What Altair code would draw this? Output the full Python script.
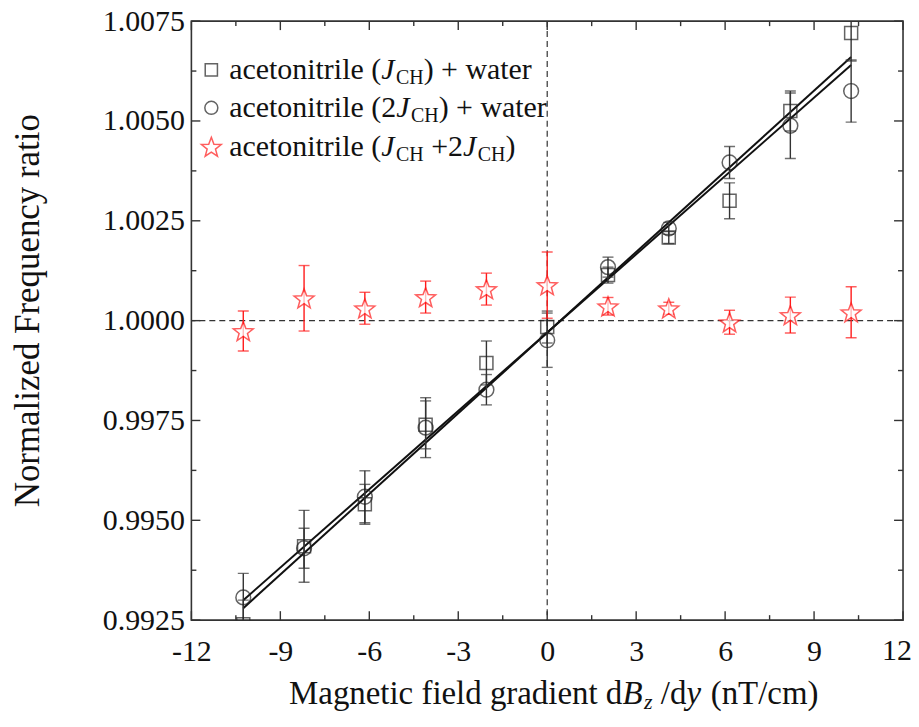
import math
import altair as alt
import pandas as pd

FONT = "Liberation Serif"

# ---------------- data ----------------
x_pts = [-10.25, -8.2, -6.15, -4.1, -2.05, 0.0, 2.05, 4.1, 6.15, 8.2, 10.25]

sq_y = [0.99240, 0.99435, 0.99540, 0.99739, 0.99894, 0.99984, 1.00114, 1.00208, 1.00300, 1.00525, 1.00720]
sq_err = [0.0006, 0.0009, 0.0005, 0.0006, 0.00055, 0.0004, 0.0002, 0.00015, 0.00045, 0.0005, 0.0007]

ci_y = [0.99307, 0.99430, 0.99559, 0.99732, 0.99827, 0.99951, 1.00134, 1.00231, 1.00396, 1.00488, 1.00575]
ci_err = [0.0006, 0.0005, 0.00065, 0.00075, 0.00038, 0.00068, 0.00025, 0.00015, 0.0004, 0.00082, 0.00078]

st_y = [0.99974, 1.00056, 1.00031, 1.00059, 1.00079, 1.00089, 1.00036, 1.00031, 0.99996, 1.00014, 1.00021]
st_err = [0.0005, 0.00082, 0.0004, 0.0004, 0.0004, 0.00083, 0.00022, 0.00015, 0.0003, 0.00045, 0.00064]

fit_x = [-10.25, 10.25]
fit_sq_y = [0.99280, 1.00660]
fit_ci_y = [0.99300, 1.00640]

x_major = [-12, -9, -6, -3, 0, 3, 6, 9, 12]
x_minor = [-10.5, -7.5, -4.5, -1.5, 1.5, 4.5, 7.5, 10.5]
x_last = [12]
y_major = [0.9925, 0.9950, 0.9975, 1.0000, 1.0025, 1.0050, 1.0075]
y_minor = [0.99375, 0.99625, 0.99875, 1.00125, 1.00375, 1.00625]

ref_y = [1.0]
ref_x = [0.0]

legend_rows = [
    [("acetonitrile (", "n"), ("J", "i"), ("CH", "s"), (") + water", "n")],
    [("acetonitrile (2", "n"), ("J", "i"), ("CH", "s"), (") + water", "n")],
    [("acetonitrile (", "n"), ("J", "i"), ("CH", "s"), (" +2", "n"), ("J", "i"), ("CH", "s"), (")", "n")],
]
legend_shapes = ["square", "circle", "star"]
legend_colors = ["#222222", "#222222", "#ff1a1a"]

x_title = [("Magnetic field gradient d", "n"), ("B", "i"), ("z", "si"), (" /d", "n"), ("y", "i"), (" (nT/cm)", "n")]
y_title = "Normalized Frequency ratio"

# five-pointed star outline as a custom symbol path in [-1, 1]
pts = []
for k in range(10):
    a = math.radians(-90 + 36 * k)
    r = 1.0 if k % 2 == 0 else 0.42
    pts.append((r * math.cos(a), r * math.sin(a) + 0.1))
STAR = "M" + " L".join(f"{px:.3f},{py:.3f}" for px, py in pts) + " Z"

# ---------------- layout ----------------
W, H = 714, 601
xs = alt.Scale(domain=[-12, 12], nice=False, zero=False)
ys = alt.Scale(domain=[0.9925, 1.0075], nice=False, zero=False)

xaxis = alt.Axis(values=x_major, labelExpr="datum.value == 12 ? '' : '' + datum.value",
                 ticks=False, domain=False, grid=False,
                 labelFont=FONT, labelFontSize=30, labelPadding=16, labelColor="#111",
                 labelOverlap=False, labelFlush=False, title=None)
yaxis = alt.Axis(values=y_major, format=".4f", ticks=False, domain=False, grid=False,
                 labelFont=FONT, labelFontSize=30, labelPadding=7, labelColor="#111",
                 labelOverlap=False, labelFlush=False,
                 titleFont=FONT, titleFontSize=35, titleFontWeight="normal", titleColor="#111",
                 titlePadding=57, titleY=290)


def X(f):
    return alt.X(f, type="quantitative", scale=xs, axis=xaxis, title=None)


def Y(f):
    return alt.Y(f, type="quantitative", scale=ys, axis=yaxis, title=y_title)


def frame(xv, yv, e):
    df = pd.DataFrame({"x": xv, "y": yv, "e": e})
    df["lo"] = df["y"] - df["e"]
    df["hi"] = df["y"] + df["e"]
    return df


df_sq = frame(x_pts, sq_y, sq_err)
df_ci = frame(x_pts, ci_y, ci_err)
df_st = frame(x_pts, st_y, st_err)

layers = []

# dashed reference lines
layers.append(alt.Chart(pd.DataFrame({"y": ref_y})).mark_rule(
    color="#333", strokeWidth=1.2, strokeDash=[6, 4]).encode(y=Y("y")))
layers.append(alt.Chart(pd.DataFrame({"x": ref_x})).mark_rule(
    color="#333", strokeWidth=1.2, strokeDash=[6, 4]).encode(x=X("x")))

# fit lines
fit_df = pd.DataFrame({"x": fit_x * 2, "y": fit_sq_y + fit_ci_y, "s": ["sq"] * 2 + ["ci"] * 2})
layers.append(alt.Chart(fit_df).mark_line(color="#111", strokeWidth=2).encode(
    x=X("x"), y=Y("y"), detail="s:N"))


def err_layers(df, color):
    out = []
    out.append(alt.Chart(df).mark_rule(color=color, strokeWidth=1.4, clip=True).encode(
        x=X("x"), y=Y("lo"), y2=alt.Y2("hi")))
    for f in ["lo", "hi"]:
        out.append(alt.Chart(df).mark_tick(color=color, orient="horizontal", size=11,
                                           thickness=1.4, clip=True).encode(x=X("x"), y=Y(f)))
    return out


layers += err_layers(df_sq, "#333")
layers += err_layers(df_ci, "#333")
layers += err_layers(df_st, "#ff1a1a")

layers.append(alt.Chart(df_sq).mark_point(shape="square", size=170, filled=False, color="#222",
                                          strokeWidth=1.5, clip=True).encode(x=X("x"), y=Y("y")))
layers.append(alt.Chart(df_ci).mark_point(shape="circle", size=220, filled=False, color="#222",
                                          strokeWidth=1.5, clip=True).encode(x=X("x"), y=Y("y")))
layers.append(alt.Chart(df_st).mark_point(shape=STAR, size=440, filled=True, fill="white",
                                          stroke="#ff1a1a", strokeWidth=1.5, clip=True).encode(x=X("x"), y=Y("y")))

# inward axis ticks
TICK_C = "#333"
for vals, ln in [(x_major, 9), (x_minor, 5)]:
    d = pd.DataFrame({"x": vals})
    layers.append(alt.Chart(d).mark_rule(color=TICK_C, strokeWidth=1.4).encode(
        x=X("x"), y=alt.value(H), y2=alt.value(H - ln)))
    layers.append(alt.Chart(d).mark_rule(color=TICK_C, strokeWidth=1.4).encode(
        x=X("x"), y=alt.value(0), y2=alt.value(ln)))
for vals, ln in [(y_major, 9), (y_minor, 5)]:
    d = pd.DataFrame({"y": vals})
    layers.append(alt.Chart(d).mark_rule(color=TICK_C, strokeWidth=1.4).encode(
        y=Y("y"), x=alt.value(0), x2=alt.value(ln)))
    layers.append(alt.Chart(d).mark_rule(color=TICK_C, strokeWidth=1.4).encode(
        y=Y("y"), x=alt.value(W), x2=alt.value(W - ln)))

# last x tick label, nudged inward so it stays on the page
layers.append(alt.Chart(pd.DataFrame({"x": x_last, "t": [str(v) for v in x_last]})).mark_text(
    font=FONT, fontSize=30, color="#111", align="center", baseline="top", dx=-6).encode(
    x=X("x"), y=alt.value(H + 16), text="t:N"))

# text helpers (Times metrics, per 1000 em)
WID = {"a": 444, "c": 444, "e": 444, "t": 278, "o": 500, "n": 500, "i": 278, "r": 333, "l": 278,
       " ": 250, "(": 333, ")": 333, "+": 564, "w": 722, "2": 500, "C": 667, "H": 722, "M": 889,
       "g": 500, "f": 333, "d": 500, "/": 278, "T": 611, "m": 778}
WID_I = {"J": 444, "B": 611, "y": 444, "z": 389}


def tw(s, style, size):
    tab = WID_I if style in ("i", "si") else WID
    return sum(tab.get(c, 500) for c in s) * size / 1000.0


def text_pieces(pieces, x0, y0, size, sub_size, sub_dy, color="#111"):
    out = []
    x = x0
    for txt, st in pieces:
        sub = st in ("s", "si")
        fs = sub_size if sub else size
        lead = len(txt) - len(txt.lstrip(" "))
        x += lead * WID[" "] * fs / 1000.0
        shown = txt.strip(" ")
        out.append(alt.Chart(pd.DataFrame({"t": [shown]})).mark_text(
            font=FONT, fontSize=fs, fontStyle="italic" if st in ("i", "si") else "normal",
            align="left", baseline="middle", color=color).encode(
            text="t:N", x=alt.value(x), y=alt.value(y0 + (sub_dy if sub else 0))))
        x += tw(txt.lstrip(" "), st, fs) + (1.5 if st == "i" else 0)
    return out


# legend
row_y = [49, 87, 126]
for i, pieces in enumerate(legend_rows):
    sh = legend_shapes[i]
    one = pd.DataFrame({"t": [sh]})
    if sh == "star":
        sym = alt.Chart(one).mark_point(shape=STAR, size=440, filled=True, fill="white",
                                        stroke=legend_colors[i], strokeWidth=1.5)
    else:
        sym = alt.Chart(one).mark_point(shape=sh, size=150 if sh == "square" else 170,
                                        filled=False, color=legend_colors[i], strokeWidth=1.5)
    layers.append(sym.encode(x=alt.value(20), y=alt.value(row_y[i])))
    layers += text_pieces(pieces, 38, row_y[i], 30, 20, 8)

# x title
layers += text_pieces(x_title, 98, 675, 33, 22, 8)

chart = alt.layer(*layers).properties(
    width=W, height=H,
    autosize=alt.AutoSizeParams(type="none"),
    padding={"left": 184, "top": 12, "right": 8, "bottom": 96},
).configure_view(stroke="#333", strokeWidth=1.6)

chart.save("out.html", embed_options={"renderer": "svg", "actions": False})
